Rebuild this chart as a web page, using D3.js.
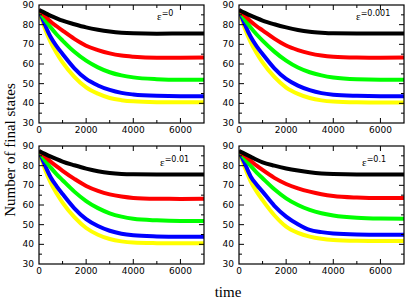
<!DOCTYPE html>
<html>
<head>
<meta charset="utf-8">
<script src="https://cdn.jsdelivr.net/npm/d3@7"></script>
<style>
  body { margin: 0; background: #fff; }
  svg { display: block; }
</style>
</head>
<body>
<svg width="409" height="304"></svg>
<script>
// time points
const times = [0, 250, 500, 750, 1000, 1500, 2000, 2500, 3000, 3500, 4000, 5000, 6000, 7000];

const seriesColors = ["#000000", "#ff0000", "#00ff00", "#0000ff", "#ffff00"];

// eps = 0
const eps0 = [
  [87.5, 86, 84.5, 83.2, 82, 80.2, 78.6, 77.4, 76.5, 75.9, 75.6, 75.4, 75.5, 75.5],
  [87.5, 84.5, 81.5, 79.2, 77, 72.8, 69.3, 67.1, 65.4, 64.3, 63.7, 63.2, 63.2, 63.3],
  [87.5, 82.5, 78.5, 75, 71.9, 66.2, 61.7, 58.3, 55.8, 54.2, 53.2, 52.3, 52, 52],
  [87.5, 80, 73.6, 69, 65.1, 57.8, 52.4, 49.1, 46.8, 45.3, 44.5, 43.8, 43.6, 43.6],
  [87.5, 78, 71, 65.5, 60.8, 53.5, 48.1, 44.9, 42.7, 41.6, 41, 40.6, 40.5, 40.5]
];
// eps = 0.001
const eps001 = [
  [87.5, 86, 84.6, 83.3, 82.1, 80.2, 78.6, 77.3, 76.4, 75.9, 75.6, 75.5, 75.5, 75.5],
  [87.5, 84.6, 81.6, 79.2, 77.1, 72.9, 69.4, 67.1, 65.4, 64.3, 63.7, 63.3, 63.2, 63.3],
  [87.5, 82.6, 78.5, 75, 71.9, 66.3, 61.7, 58.2, 55.8, 54.2, 53.1, 52.2, 52, 52],
  [87.5, 80, 73.7, 69, 65.1, 57.8, 52.4, 49, 46.7, 45.2, 44.4, 43.8, 43.6, 43.6],
  [87.5, 78, 71, 65.5, 60.8, 53.4, 48, 44.8, 42.7, 41.5, 40.9, 40.5, 40.4, 40.4]
];
// eps = 0.01
const eps01 = [
  [87.5, 86, 84.6, 83.3, 82.1, 80.2, 78.5, 77.2, 76.3, 75.8, 75.6, 75.5, 75.5, 75.5],
  [87.5, 84.8, 82, 79.6, 77.4, 73.3, 69.7, 67.2, 65.4, 64.3, 63.6, 63.2, 63.1, 63.2],
  [87.5, 82.8, 79, 75.6, 72.6, 66.8, 62, 58.4, 55.8, 54.1, 53, 52.2, 51.9, 51.9],
  [87.5, 80.3, 74, 69.5, 65.6, 58.3, 52.8, 49.3, 46.9, 45.4, 44.6, 44, 43.8, 43.8],
  [87.5, 78.3, 71.2, 65.8, 61.2, 53.8, 48.3, 44.9, 42.7, 41.5, 40.9, 40.6, 40.5, 40.5]
];
// eps = 0.1
const eps1 = [
  [87.5, 86, 84.5, 83, 81.7, 80, 78.6, 77.5, 76.6, 76, 75.7, 75.5, 75.5, 75.5],
  [87.5, 85, 82.5, 80, 77.8, 73.8, 70.7, 68.5, 66.8, 65.5, 64.6, 63.8, 63.5, 63.5],
  [87.5, 83.5, 79.8, 76.5, 73.6, 68, 63.4, 60, 57.5, 55.8, 54.7, 53.5, 53.1, 53],
  [87.5, 81, 74.4, 70.3, 66.8, 59.6, 54.1, 50.2, 47.3, 46.2, 45.5, 45, 44.9, 44.9],
  [87.5, 79, 71.9, 66.8, 62.5, 54.8, 49, 45.8, 43.9, 42.8, 42.2, 41.8, 41.7, 41.7]
];

const panelLabels = ["=0", "=0.001", "=0.01", "=0.1"];
const xTicks = [0, 2000, 4000, 6000];
const yTicks = [30, 40, 50, 60, 70, 80, 90];

const panels = [
  { data: eps0,   label: panelLabels[0], x0: 39,  y0: 5,   lx: 157, ly: 20 },
  { data: eps001, label: panelLabels[1], x0: 239, y0: 5,   lx: 356, ly: 20 },
  { data: eps01,  label: panelLabels[2], x0: 39,  y0: 146, lx: 160, ly: 166 },
  { data: eps1,   label: panelLabels[3], x0: 239, y0: 146, lx: 362, ly: 166 }
];
const pw = 165, ph = 118;

const svg = d3.select("svg");
const tickFont = "'DejaVu Sans', sans-serif";

panels.forEach(p => {
  const x = d3.scaleLinear().domain([0, 7000]).range([0, pw]);
  const y = d3.scaleLinear().domain([30, 90]).range([ph, 0]);
  const g = svg.append("g").attr("transform", `translate(${p.x0},${p.y0})`);

  const line = d3.line()
    .x((d, i) => x(times[i]))
    .y(d => y(d))
    .curve(d3.curveMonotoneX);

  const clip = "clip" + p.x0 + "_" + p.y0;
  g.append("clipPath").attr("id", clip).append("rect").attr("width", pw).attr("height", ph);

  g.append("g").attr("clip-path", `url(#${clip})`)
    .selectAll("path.s")
    .data(p.data.slice().reverse())
    .join("path")
    .attr("class", "s")
    .attr("d", line)
    .attr("fill", "none")
    .attr("stroke", (d, i) => seriesColors[seriesColors.length - 1 - i])
    .attr("stroke-width", 4);

  // ticks inside, on all sides
  const minorX = d3.range(1000, 7000, 2000);
  const minorY = d3.range(35, 90, 10);
  const tk = g.append("g").attr("stroke", "#000").attr("stroke-width", 1);
  xTicks.concat([]).forEach(t => {
    if (t === 0) return;
    tk.append("line").attr("x1", x(t)).attr("x2", x(t)).attr("y1", ph).attr("y2", ph - 5);
    tk.append("line").attr("x1", x(t)).attr("x2", x(t)).attr("y1", 0).attr("y2", 5);
  });
  minorX.forEach(t => {
    tk.append("line").attr("x1", x(t)).attr("x2", x(t)).attr("y1", ph).attr("y2", ph - 3);
    tk.append("line").attr("x1", x(t)).attr("x2", x(t)).attr("y1", 0).attr("y2", 3);
  });
  yTicks.forEach(v => {
    if (v === 30 || v === 90) return;
    tk.append("line").attr("x1", 0).attr("x2", 5).attr("y1", y(v)).attr("y2", y(v));
    tk.append("line").attr("x1", pw).attr("x2", pw - 5).attr("y1", y(v)).attr("y2", y(v));
  });
  minorY.forEach(v => {
    tk.append("line").attr("x1", 0).attr("x2", 3).attr("y1", y(v)).attr("y2", y(v));
    tk.append("line").attr("x1", pw).attr("x2", pw - 3).attr("y1", y(v)).attr("y2", y(v));
  });

  g.append("rect").attr("width", pw).attr("height", ph)
    .attr("fill", "none").attr("stroke", "#000").attr("stroke-width", 1.2);

  g.selectAll("text.xt").data(xTicks).join("text")
    .attr("x", d => x(d)).attr("y", ph + 10)
    .attr("text-anchor", "middle")
    .style("font", `9px ${tickFont}`)
    .text(d => d);
  g.selectAll("text.yt").data(yTicks).join("text")
    .attr("x", -5).attr("y", d => y(d) + 3)
    .attr("text-anchor", "end")
    .style("font", `9px ${tickFont}`)
    .text(d => d);

  const lab = svg.append("text")
    .attr("x", p.lx).attr("y", p.ly)
    .style("font", "11px 'Liberation Serif', serif");
  lab.append("tspan").text("ε");
  lab.append("tspan").attr("dy", -4).style("font-size", "8px")
    .style("font-family", tickFont).text(p.label);
});

svg.append("text")
  .attr("transform", "translate(15,150) rotate(-90)")
  .attr("text-anchor", "middle")
  .style("font", "15px 'Liberation Serif', serif")
  .text("Number of final states");

svg.append("text")
  .attr("x", 228).attr("y", 297)
  .attr("text-anchor", "middle")
  .style("font", "15px 'Liberation Serif', serif")
  .text("time");
</script>
</body>
</html>
